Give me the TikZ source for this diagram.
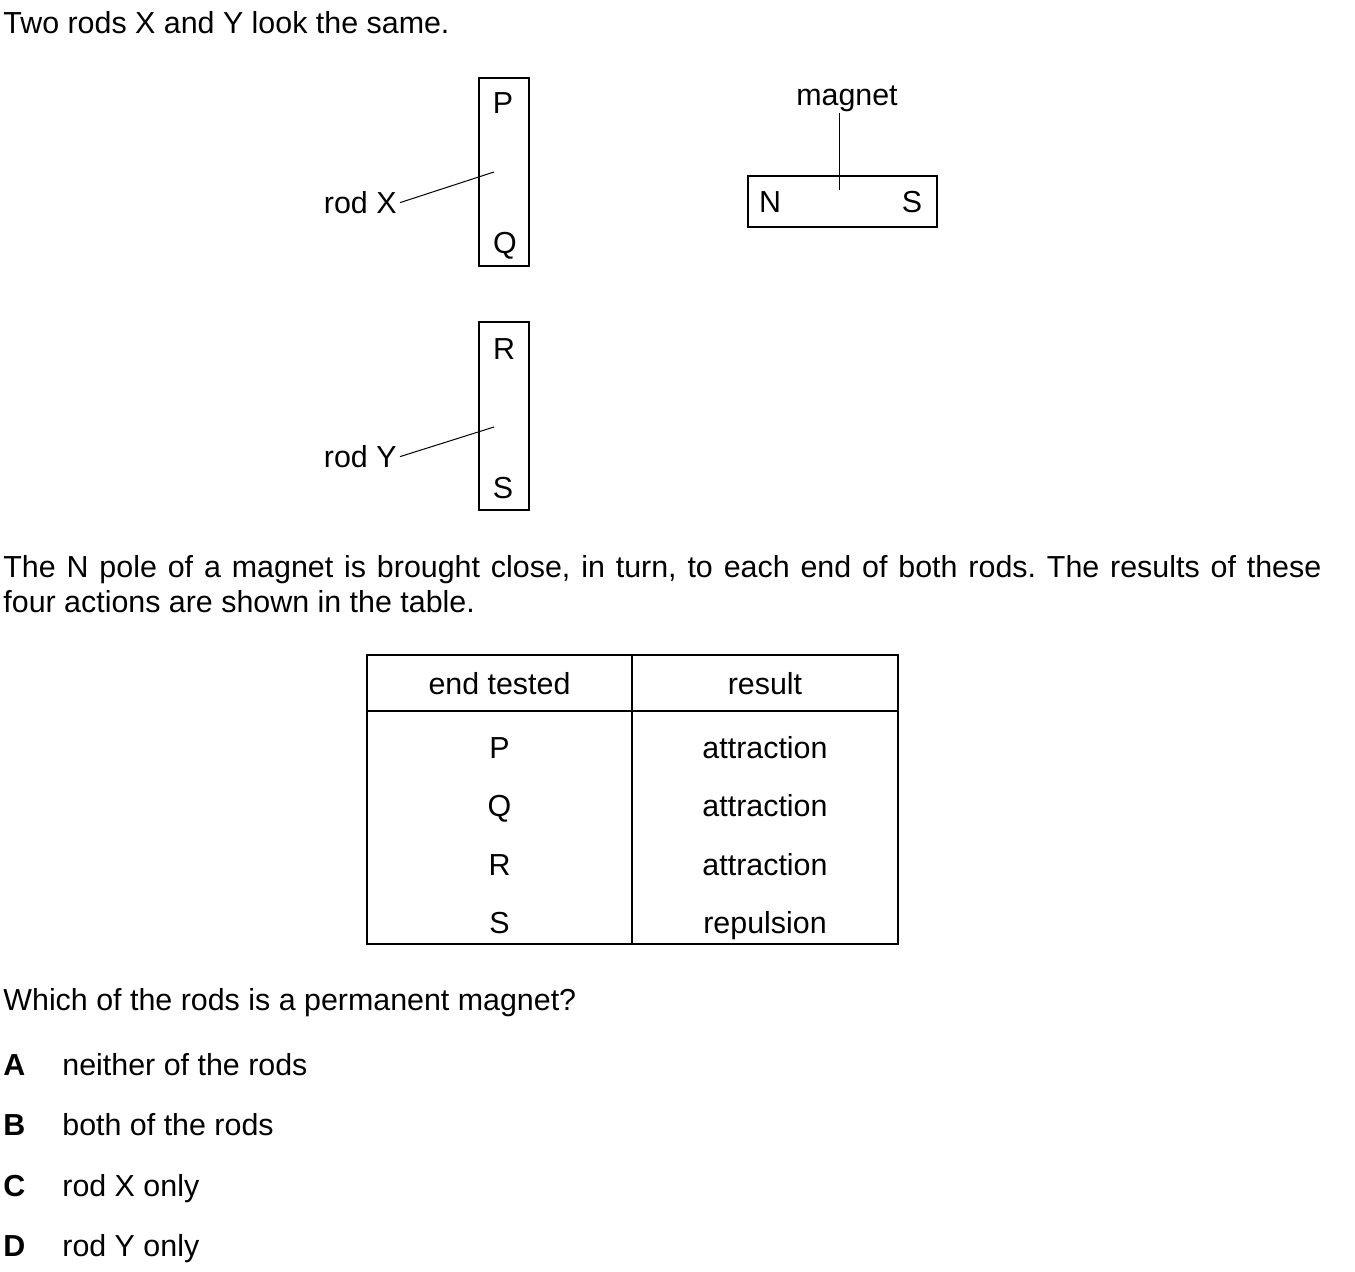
\documentclass[tikz,border=0pt]{standalone}
\usepackage{fontspec}
\setmainfont{Liberation Sans}
\usepackage{tikz}
\usetikzlibrary{positioning,calc}
\frenchspacing

\begin{document}
\begin{tikzpicture}[x=0.5pt,y=-0.5pt,
  txt/.style={inner sep=0pt,anchor=base,font=\fontsize{15.2pt}{17.5pt}\selectfont},
  txtl/.style={txt,anchor=base west},
  rodbox/.style={shape=rectangle,draw=black,line width=1pt,minimum width=25pt,minimum height=94pt,inner sep=0pt},
  leader/.style={line width=0.5pt}]
\useasboundingbox (0,0) rectangle (1355,1272);
\node[txtl](title) at (3,33.5) {Two rods X and Y look the same.};
% rods
\node[rodbox](rodX) at (504,172) {};
\node[rodbox](rodY) at (504,416.5) {};
\node[txt](P) at (503,113.5) {P};
\node[txt](Q) at (505,253.5) {Q};
\node[txt](R) at (504,359.5) {R};
\node[txt](S) at (503,498.5) {S};
\node[txt,anchor=base east](labX) at (397,213.5) {rod X};
\node[txt,anchor=base east](labY) at (397,467.5) {rod Y};
\coordinate (tipX) at (494,172);
\coordinate (tipY) at (494,427);
\draw[leader] ([xshift=1.5pt]labX.east) -- (tipX);
\draw[leader] ([xshift=1.5pt]labY.east) -- (tipY);
% magnet
\node[shape=rectangle,draw=black,line width=1pt,minimum width=94.5pt,minimum height=25.5pt](mag) at (842.5,201.5) {};
\node[txt](N) at (770,212.5) {N};
\node[txt](Smag) at (912,212.5) {S};
\node[txt](labM) at (847,106) {magnet};
\coordinate (tipM) at (839,190);
\draw[leader] (tipM |- labM.south) -- (tipM);
% text
\node[txtl](line1) at (3,577.5) {\makebox[659pt][s]{The N pole of a magnet is brought close, in turn, to each end of both rods. The results of these}};
\node[txtl](line2) at (3,612.5) {four actions are shown in the table.};
% table
\draw[line width=0.75pt] (367,655) rectangle (898,944);
\draw[line width=0.75pt] (632,655) -- (632,944);
\draw[line width=0.75pt] (367,711) -- (898,711);
\node[txt](head1) at (499.5,694.5) {end tested};
\node[txt](head2) at (765,694.5) {result};
\foreach \e/\r [count=\i] in {P/attraction,Q/attraction,R/attraction,S/repulsion}{
  \node[txt](e\i) at (499.5,{758.5+(\i-1)*58.3}) {\e};
  \node[txt](r\i) at (765,{758.5+(\i-1)*58.3}) {\r};
}
\node[txtl](quest) at (3,1010.5) {Which of the rods is a permanent magnet?};
\foreach \l/\t [count=\i] in {A/neither of the rods,B/both of the rods,C/rod X only,D/rod Y only}{
  \node[txtl](key\i) at (3,{1075.5+(\i-1)*60.33}) {\textbf{\l}};
  \node[txtl](opt\i) at (62,{1075.5+(\i-1)*60.33}) {\t};
}
\end{tikzpicture}
\end{document}
